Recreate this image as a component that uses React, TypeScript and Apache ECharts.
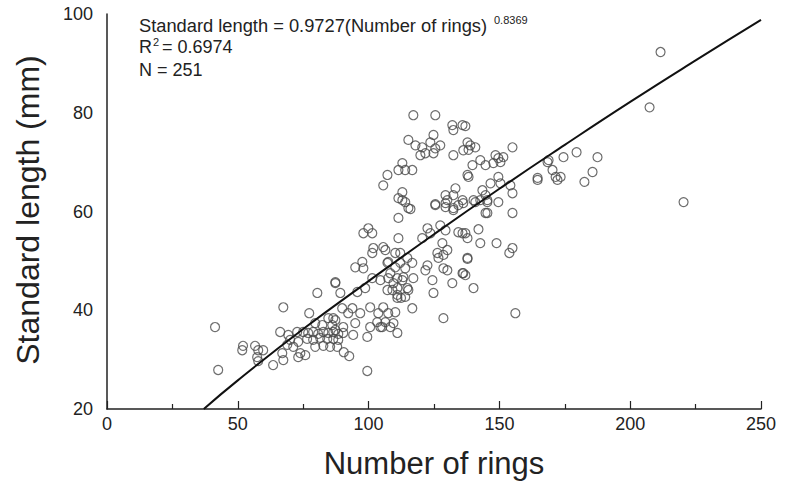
import React, { useEffect, useRef } from "react";
import * as echarts from "echarts";

// Number of rings (x) vs standard length in mm (y)
const lowerCluster: number[][] = [
  [41.3, 36.6], [42.5, 27.9], [51.7, 31.9], [52, 32.8], [56.6, 32.8], [57.8, 31.9], [59.7, 31.9], [57.4, 30.5],
  [57.8, 29.7], [63.5, 28.9], [66.2, 35.6], [67, 31.3], [67.4, 29.9], [67.4, 40.6], [69.3, 35], [70, 34],
  [68.9, 33], [71.2, 32.6], [73.1, 33.6], [73.9, 31.3], [73.1, 30.5], [75.8, 30.9], [72.7, 35.6], [75, 35.6],
  [76.9, 35.4], [78.8, 35.6], [80.7, 35.2], [82.7, 35.6], [84.6, 35.4], [86.5, 35.6], [88.4, 35.2], [76.5, 34.2],
  [78.8, 34], [81.5, 34.4], [84.2, 34.2], [86.5, 34.2], [88.4, 34], [79.6, 32.6], [82.7, 32.8], [85.3, 32.6],
  [88, 32.6], [87.3, 38], [84.6, 38.4], [86.1, 37], [79.6, 37.4], [82.3, 37], [77.3, 39.4], [80.4, 43.5],
  [87.3, 45.5], [99.5, 27.7], [92.6, 30.7], [90.5, 31.5],
];

const middleCluster: number[][] = [
  [93.8, 40.4], [96.8, 39.4], [100.6, 40.6], [103.7, 39.4], [105.6, 40.6], [107.5, 39.4], [110.2, 39.6], [106.4, 37.6],
  [103.3, 37.6], [100.6, 36.6], [94.9, 37.4], [90.3, 36.6], [86.5, 38.4], [89.9, 40.4], [92.2, 39.4], [87.3, 36],
  [90.3, 35.4], [94.1, 35], [99.5, 34.6], [104.5, 36.6], [108.3, 36.6], [111, 35.4], [87.3, 45.7], [89.2, 43.5],
  [95.7, 43.7], [98.7, 44.5], [101.4, 46.5], [104.5, 46.1], [107.5, 46.5], [111, 46.5], [112.9, 46.1], [117.1, 46.5],
  [114.8, 44.5], [111, 44.5], [109.1, 44.1], [111, 42.5], [112.4, 42.5], [114, 42.7], [94.9, 48.7], [98, 48.5],
  [97.6, 49.8], [116.7, 40.4], [128.6, 38.4], [124.8, 43.5], [124.4, 46.1], [107.2, 49.6], [108.3, 47.5], [113.3, 46.7],
  [109.5, 45.5], [107.2, 44.1], [115.2, 44.1], [111, 43.1], [109.5, 37.4], [105.2, 36.6],
];

const upperMiddleCluster: number[][] = [
  [114, 61.9], [116, 60.5], [125.5, 61.5], [129.4, 61.7], [132.4, 60.7], [111.4, 58.7], [98, 55.6], [99.9, 56.6],
  [101.4, 55.6], [111.4, 54.6], [122.5, 56.6], [123.6, 55.6], [127.4, 57.2], [129.4, 56.2], [134.3, 55.8], [137, 55.6],
  [120.5, 54.6], [128.2, 53.6], [126.3, 51.6], [128.6, 51.2], [130.1, 52.2], [101.8, 52.6], [106.4, 52.2], [110.2, 51.6],
  [112.1, 51.6], [114.8, 50.6], [101.4, 51.6], [107.5, 49.8], [110.2, 48.7], [112.1, 49.6], [114, 48.5], [116.7, 49.6],
  [122.5, 49.1], [121.7, 48.1], [126.7, 50.6], [128.6, 48.5], [130.1, 48.1], [132, 45.5], [135.9, 47.5], [137, 47.1],
  [137.8, 50.6], [105.6, 52.8],
];

const topCluster: number[][] = [
  [117.1, 79.5], [125.5, 79.5], [132, 77.5], [132.4, 76.5], [135.9, 77.5], [137, 77.3], [115.2, 74.5], [117.9, 73.4],
  [120.5, 73], [123.6, 74], [124.8, 75.5], [127.4, 73.4], [119.8, 71.4], [121.7, 71.8], [124.8, 71.8], [125.5, 72.8],
  [132.4, 71.4], [136.2, 72.4], [137.8, 74], [138.9, 73.4], [140.8, 73], [138.2, 72.5], [112.9, 69.8], [114, 68.4],
  [116.7, 68.4], [148.5, 71.4], [149.6, 70.8], [151.5, 71], [155, 73], [139.7, 69.4], [142.7, 70.4], [144.7, 69.4],
  [137.8, 67.4], [138.2, 67], [147.7, 69.8], [150.4, 70], [149.6, 67], [146.6, 65.7], [143.5, 64.3], [144.7, 63.3],
  [142.7, 62.3], [145.4, 62.3], [150.4, 65.7], [133.2, 64.7], [132.4, 63.3], [129.4, 63.3], [130.1, 62.3], [135.9, 62.3],
  [140.1, 62.3], [134.3, 61.3], [125.5, 61.3], [129.4, 60.9], [132.4, 60.3], [112.9, 63.9], [112.9, 62.3], [115.2, 60.7],
  [145.4, 59.7], [154.2, 65.3], [155, 63.7], [155, 59.7], [164.6, 66.8], [168.4, 70], [107.2, 67.4], [105.6, 65.3],
  [111.4, 68.4], [111.4, 62.7],
];

const rightCluster: number[][] = [
  [136.2, 61.7], [140.8, 61.9], [145.4, 61.9], [149.6, 61.9], [144.7, 59.7], [142, 56.4], [135.9, 55.6], [137.8, 54.6],
  [142.7, 53.6], [148.9, 53.6], [155, 52.6], [153.8, 51.6], [137.8, 50.4], [136.2, 47.5], [140.1, 44.5], [156.1, 39.4],
  [211.6, 92.3], [207.4, 81.1], [179.5, 72], [174.5, 71], [187.5, 71], [185.6, 68], [182.5, 66], [173.4, 67],
  [220.4, 61.9], [168.8, 70.4], [170.3, 68.4], [171.5, 67], [172.2, 66.4], [164.6, 66.4],
];

// Fitted power curve
const fitCurve: number[][] = [
  [37, 20], [50, 25.8], [75, 36.2], [100, 45.9], [125, 55.4], [150, 64.6], [175, 73.5], [200, 82.2], [225, 90.6], [250, 98.8],
];

const xTicks = { min: 0, max: 250, interval: 50 };
const yTicks = { min: 20, max: 100, interval: 20 };

const equationText = "Standard length = 0.9727(Number of rings)";
const exponentText = "0.8369";
const r2Value = "= 0.6974";
const nText = "N = 251";
const xTitle = "Number of rings";
const yTitle = "Standard length (mm)";

const FONT = "'Liberation Sans', Arial, sans-serif";

export default function App() {
  const ref = useRef<HTMLDivElement>(null);

  useEffect(() => {
    if (!ref.current) return;
    const chart = echarts.init(ref.current, null, { renderer: "svg" });
    const points = [
      ...lowerCluster,
      ...middleCluster,
      ...upperMiddleCluster,
      ...topCluster,
      ...rightCluster,
    ];
    const axisColor = "#222";
    const mainText = (text: string, x: number, y: number, size = 18) => ({
      type: "text",
      x,
      y,
      style: { text, fontSize: size, fontFamily: FONT, fill: "#222", verticalAlign: "middle", align: "left" },
    });
    const supText = (text: string, x: number, y: number) => ({
      type: "text",
      x,
      y,
      style: { text, fontSize: 11, fontFamily: FONT, fill: "#222", verticalAlign: "middle", align: "left" },
    });
    chart.setOption({
      animation: false,
      backgroundColor: "#fff",
      grid: { left: 107, right: 25, top: 14, bottom: 82 },
      xAxis: {
        type: "value",
        min: xTicks.min,
        max: xTicks.max,
        interval: xTicks.interval,
        axisLine: { show: true, lineStyle: { color: axisColor, width: 1.5 } },
        axisTick: { show: true, inside: true, length: 8, lineStyle: { color: axisColor, width: 1.2 } },
        minorTick: { show: true, splitNumber: 2, length: 5, lineStyle: { color: axisColor, width: 1.2 } },
        splitLine: { show: false },
        minorSplitLine: { show: false },
        axisLabel: { fontSize: 18, color: axisColor, margin: 6, fontFamily: FONT },
      },
      yAxis: {
        type: "value",
        min: yTicks.min,
        max: yTicks.max,
        interval: yTicks.interval,
        axisLine: { show: true, lineStyle: { color: axisColor, width: 1.5 } },
        axisTick: { show: false },
        splitLine: { show: false },
        axisLabel: { fontSize: 18, color: axisColor, margin: 14, fontFamily: FONT },
      },
      series: [
        {
          type: "scatter",
          data: points,
          symbol: "circle",
          symbolSize: 9,
          itemStyle: { color: "rgba(255,255,255,0)", borderColor: "#4a4a4a", borderWidth: 1.2 },
          z: 2,
        },
        {
          type: "line",
          data: fitCurve,
          smooth: true,
          showSymbol: false,
          symbol: "none",
          lineStyle: { color: "#111", width: 2 },
          z: 3,
        },
      ],
      graphic: [
        mainText(equationText, 139, 25, 18.3),
        supText(exponentText, 494, 20),
        mainText("R", 139, 47),
        supText("2", 153, 42),
        mainText(r2Value, 162, 47),
        mainText(nText, 139, 70),
        {
          type: "text",
          x: 434,
          y: 463,
          style: { text: xTitle, fontSize: 31, fontFamily: FONT, fill: "#222", align: "center", verticalAlign: "middle" },
        },
        {
          type: "text",
          x: 28,
          y: 210,
          rotation: Math.PI / 2,
          style: { text: yTitle, fontSize: 32, fontFamily: FONT, fill: "#222", align: "center", verticalAlign: "middle" },
        },
      ],
    });
    return () => chart.dispose();
  }, []);

  return (
    <div
      ref={ref}
      style={{ position: "fixed", left: 0, top: 0, width: 786, height: 491, background: "#fff" }}
    />
  );
}
